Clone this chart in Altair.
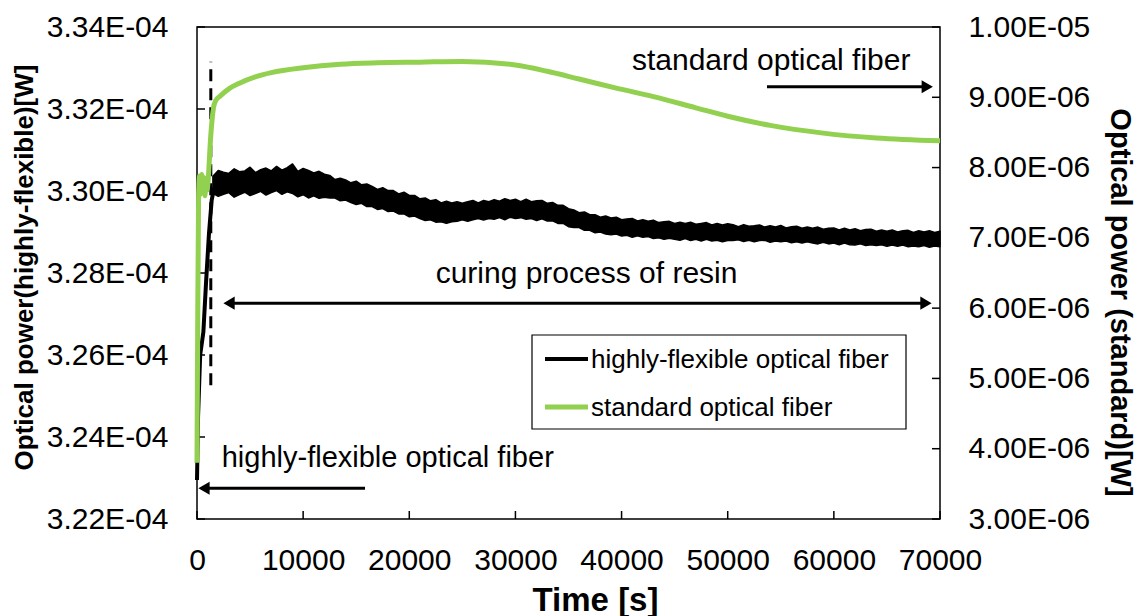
import altair as alt
import pandas as pd

FONT = "Liberation Sans"
GREEN = "#92D050"
W, H = 743, 492

# ---- axis ticks -------------------------------------------------------------
x_ticks = [0, 10000, 20000, 30000, 40000, 50000, 60000, 70000]
left_ticks = [3.22e-4, 3.24e-4, 3.26e-4, 3.28e-4, 3.30e-4, 3.32e-4, 3.34e-4]
right_ticks = [3e-6, 4e-6, 5e-6, 6e-6, 7e-6, 8e-6, 9e-6, 1e-5]

series_names = ["highly-flexible optical fiber", "standard optical fiber"]

# ---- highly-flexible fiber: start-up ramp (x1e-4 W) --------------------------
hf_ramp_t = [0, 100, 300, 600, 850, 1130, 1385, 1600, 1800, 2000]
hf_ramp_p = [3.2295, 3.2450, 3.2600, 3.2656, 3.2776, 3.2897, 3.2978, 3.3005, 3.3015, 3.3019]

# ---- highly-flexible fiber: noise envelope, sampled every 500 s (x1e-4 W) -----
hf_band_t = list(range(1500, 70001, 500))
hf_band_hi = [
    3.3036, 3.3050, 3.3046, 3.3043, 3.3054, 3.3047, 3.3049, 3.3058, 3.3045, 3.3052,
    3.3056, 3.3049, 3.3060, 3.3051, 3.3057, 3.3066, 3.3048, 3.3055, 3.3050, 3.3044,
    3.3048, 3.3041,
    3.3038, 3.3028, 3.3031, 3.3027, 3.3020, 3.3024, 3.3015, 3.3017, 3.3011, 3.3004,
    3.3008, 3.3001, 3.3001, 3.2993, 3.2997, 3.2989, 3.2989, 3.2981, 3.2983, 3.2976,
    3.2979, 3.2971, 3.2975, 3.2971,
    3.2974, 3.2970, 3.2974, 3.2977, 3.2971, 3.2977, 3.2974, 3.2979, 3.2975, 3.2981,
    3.2977, 3.2980, 3.2974, 3.2980, 3.2974, 3.2976, 3.2977, 3.2970, 3.2972, 3.2965,
    3.2965, 3.2957,
    3.2954, 3.2947, 3.2949, 3.2942, 3.2942, 3.2936, 3.2939, 3.2934, 3.2936, 3.2930,
    3.2932, 3.2933, 3.2927, 3.2930, 3.2926, 3.2929, 3.2923, 3.2925, 3.2926, 3.2921,
    3.2924, 3.2921, 3.2924, 3.2919, 3.2921, 3.2923, 3.2917, 3.2921, 3.2917, 3.2920,
    3.2918, 3.2913, 3.2918, 3.2914, 3.2915, 3.2917, 3.2912, 3.2915, 3.2912, 3.2916,
    3.2910, 3.2913, 3.2914, 3.2909, 3.2912, 3.2909, 3.2912, 3.2907, 3.2909, 3.2910,
    3.2905, 3.2909, 3.2905, 3.2908, 3.2903, 3.2906, 3.2907, 3.2902, 3.2905, 3.2902,
    3.2905, 3.2900, 3.2903, 3.2904, 3.2899, 3.2903, 3.2900, 3.2903, 3.2899, 3.2902,
]
hf_band_lo = [
    3.2994, 3.2987, 3.2992, 3.2996, 3.2985, 3.2991, 3.2997, 3.2989, 3.2994, 3.2999,
    3.2990, 3.2996, 3.3001, 3.2992, 3.2998, 3.2994, 3.2986, 3.2991, 3.2983, 3.2988,
    3.2982, 3.2985,
    3.2983, 3.2983, 3.2976, 3.2978, 3.2972, 3.2967, 3.2970, 3.2962, 3.2962, 3.2955,
    3.2957, 3.2950, 3.2951, 3.2944, 3.2944, 3.2937, 3.2939, 3.2933, 3.2928, 3.2930,
    3.2924, 3.2925, 3.2921, 3.2925,
    3.2926, 3.2930, 3.2926, 3.2930, 3.2933, 3.2929, 3.2933, 3.2931, 3.2935, 3.2930,
    3.2936, 3.2933, 3.2935, 3.2931, 3.2933, 3.2928, 3.2932, 3.2927, 3.2927, 3.2921,
    3.2921, 3.2913,
    3.2911, 3.2911, 3.2904, 3.2904, 3.2898, 3.2900, 3.2895, 3.2893, 3.2895, 3.2890,
    3.2892, 3.2887, 3.2891, 3.2887, 3.2889, 3.2884, 3.2886, 3.2882, 3.2885, 3.2882,
    3.2880, 3.2884, 3.2879, 3.2882, 3.2878, 3.2882, 3.2878, 3.2880, 3.2876, 3.2879,
    3.2879, 3.2881, 3.2877, 3.2880, 3.2876, 3.2879, 3.2880, 3.2875, 3.2878, 3.2876,
    3.2878, 3.2874, 3.2876, 3.2873, 3.2876, 3.2873, 3.2871, 3.2875, 3.2871, 3.2873,
    3.2869, 3.2873, 3.2869, 3.2868, 3.2871, 3.2867, 3.2869, 3.2867, 3.2869, 3.2865,
    3.2868, 3.2865, 3.2868, 3.2864, 3.2866, 3.2864, 3.2867, 3.2863, 3.2866, 3.2864,
]

# ---- standard fiber (x1e-6 W) -----------------------------------------------
std_t = [0, 60, 150, 250, 350, 450, 550, 650, 750, 850, 950, 1040, 1290, 1550, 1750,
         2200, 3000, 4000, 5500, 7000, 10000, 13500, 17000, 21000, 25000, 30000,
         33000, 36000, 39500, 43000, 47000, 50000, 54000, 59000, 64000, 70000]
std_p = [3.80, 5.60, 7.60, 7.88, 7.62, 7.90, 7.66, 7.86, 7.60, 7.84, 7.68, 7.80, 8.44,
         8.85, 8.95, 9.02, 9.12, 9.20, 9.29, 9.35, 9.42, 9.47, 9.49, 9.50, 9.51,
         9.46, 9.37, 9.26, 9.13, 9.01, 8.85, 8.73, 8.60, 8.49, 8.42, 8.38]

# ---- tables -----------------------------------------------------------------
ramp_df = pd.DataFrame({"t": hf_ramp_t, "p": [v * 1e-4 for v in hf_ramp_p]})
band_df = pd.DataFrame({"t": hf_band_t,
                        "hi": [v * 1e-4 for v in hf_band_hi],
                        "lo": [v * 1e-4 for v in hf_band_lo]})
std_df = pd.DataFrame({"t": std_t, "p": [v * 1e-6 for v in std_p]})

# ---- shared encodings -------------------------------------------------------
x_scale = alt.Scale(domain=[0, 70000], nice=False, zero=False)
x_axis = alt.Axis(values=x_ticks, format="d", ticks=False, tickSize=0, domain=False,
                  grid=False, labelFontSize=30, labelPadding=26, labelFlush=False,
                  titleFontSize=33, titleFontWeight="bold", titlePadding=9, titleX=398)
l_scale = alt.Scale(domain=[3.22e-4, 3.34e-4], nice=False, zero=False)
l_axis = alt.Axis(values=left_ticks, labelExpr="format(datum.value * 10000, '.2f') + 'E-04'",
                  ticks=False, tickSize=0, domain=False, grid=False, labelFontSize=30,
                  labelPadding=29, labelFlush=False, titleFontSize=26,
                  titleFontWeight="bold", titlePadding=9, titleY=240, orient="left")
r_scale = alt.Scale(domain=[3e-6, 1e-5], nice=False, zero=False)
r_axis = alt.Axis(values=right_ticks,
                  labelExpr="datum.value > 9.5e-6 ? '1.00E-05' : format(datum.value * 1000000, '.2f') + 'E-06'",
                  ticks=False, tickSize=0, domain=False, grid=False, labelFontSize=30,
                  labelPadding=28, labelFlush=False, titleFontSize=29,
                  titleFontWeight="bold", titlePadding=15, titleY=275, orient="right")

X_TITLE = "Time [s]"
L_TITLE = "Optical power(highly-flexible)[W]"
R_TITLE = "Optical power (standard)[W]"


def xq(field):
    return alt.X(f"{field}:Q", scale=x_scale, axis=x_axis, title=X_TITLE)


def yl(field):
    return alt.Y(f"{field}:Q", scale=l_scale, axis=l_axis, title=L_TITLE)


def yr(field):
    return alt.Y(f"{field}:Q", scale=r_scale, axis=r_axis, title=R_TITLE)


one = pd.DataFrame({"k": [0]})

# ---- left-axis layers -------------------------------------------------------
band = alt.Chart(band_df).mark_area(color="black", stroke="black", strokeWidth=1.5,
                                    strokeJoin="round").encode(
    x=xq("t"), y=yl("hi"), y2=alt.Y2("lo"))

ramp = alt.Chart(ramp_df).mark_line(color="black", strokeWidth=4).encode(
    x=xq("t"), y=yl("p"))

xtick_rules = alt.Chart(pd.DataFrame({"t": x_ticks})).mark_rule(
    color="black", strokeWidth=1.5).encode(x=xq("t"), y=alt.value(H), y2=alt.value(H - 8))

ltick_rules = alt.Chart(pd.DataFrame({"v": left_ticks})).mark_rule(
    color="black", strokeWidth=1.5).encode(y=yl("v"), x=alt.value(0), x2=alt.value(8))

# curing-start marker
marker_df = pd.DataFrame({"t": [1300], "v0": [3.2526e-4], "v1": [3.3315e-4]})
marker = alt.Chart(marker_df).mark_rule(color="black", strokeWidth=3,
                                        strokeDash=[12, 7]).encode(
    x=xq("t"), y=yl("v0"), y2=alt.Y2("v1"))

# arrows: shafts and heads
shaft_df = pd.DataFrame({
    "t0": [53700, 3020, 660],
    "t1": [68800, 68680, 15830],
    "v": [3.32543e-4, 3.27265e-4, 3.22751e-4],
})
shafts = alt.Chart(shaft_df).mark_rule(color="black", strokeWidth=3).encode(
    x=xq("t0"), x2=alt.X2("t1"), y=yl("v"))

head_r_df = pd.DataFrame({"t": [68800, 68680], "v": [3.32543e-4, 3.27265e-4]})
head_l_df = pd.DataFrame({"t": [3020, 660], "v": [3.27265e-4, 3.22751e-4]})
heads_r = alt.Chart(head_r_df).mark_point(shape="triangle-right", filled=True, size=170,
                                           color="black", opacity=1).encode(
    x=xq("t"), y=yl("v"))
heads_l = alt.Chart(head_l_df).mark_point(shape="triangle-left", filled=True, size=170,
                                           color="black", opacity=1).encode(
    x=xq("t"), y=yl("v"))


# annotation texts
def note(text, t, v, align, size):
    df = pd.DataFrame({"t": [t], "v": [v], "label": [text]})
    return alt.Chart(df).mark_text(font=FONT, fontSize=size, color="black", align=align,
                                   baseline="alphabetic").encode(
        x=xq("t"), y=yl("v"), text="label:N")


note_std = note(series_names[1], 54100, 3.32951e-4, "center", 30)
note_cure = note("curing process of resin", 36700, 3.27754e-4, "center", 30)
note_hf = note(series_names[0], 2330, 3.23263e-4, "left", 29)

# legend box
leg_box = alt.Chart(one).mark_rect(fill="white", stroke="black", strokeWidth=1.2).encode(
    x=alt.value(335), x2=alt.value(709), y=alt.value(308), y2=alt.value(402))
leg_line_hf = alt.Chart(one).mark_rule(color="black", strokeWidth=4).encode(
    x=alt.value(348), x2=alt.value(391), y=alt.value(332))
leg_line_std = alt.Chart(one).mark_rule(color=GREEN, strokeWidth=5).encode(
    x=alt.value(348), x2=alt.value(391), y=alt.value(380))
leg_txt_hf = alt.Chart(one).mark_text(font=FONT, fontSize=26, align="left",
                                      baseline="middle", color="black").encode(
    x=alt.value(394), y=alt.value(333), text=alt.value(series_names[0]))
leg_txt_std = alt.Chart(one).mark_text(font=FONT, fontSize=26, align="left",
                                       baseline="middle", color="black").encode(
    x=alt.value(394), y=alt.value(381), text=alt.value(series_names[1]))

left_layer = alt.layer(band, ramp, xtick_rules, ltick_rules, marker, shafts, heads_r,
                       heads_l, note_std, note_cure, note_hf, leg_box, leg_line_hf,
                       leg_line_std, leg_txt_hf, leg_txt_std)

# ---- right-axis layers ------------------------------------------------------
std_line = alt.Chart(std_df).mark_line(color=GREEN, strokeWidth=5,
                                       interpolate="monotone").encode(
    x=xq("t"), y=yr("p"))
rtick_rules = alt.Chart(pd.DataFrame({"v": right_ticks})).mark_rule(
    color="black", strokeWidth=1.5).encode(y=yr("v"), x=alt.value(W - 8), x2=alt.value(W))

right_layer = alt.layer(std_line, rtick_rules)

chart = alt.layer(left_layer, right_layer).resolve_scale(y="independent").properties(
    width=W, height=H,
    autosize=alt.AutoSizeParams(type="none"),
    padding={"left": 197, "top": 27, "right": 197, "bottom": 97},
    background="white",
).configure_view(stroke="black", strokeWidth=1.5).configure_axis(
    labelFont=FONT, titleFont=FONT, labelColor="black", titleColor="black")

chart.save("out.html", embed_options={"renderer": "svg", "actions": False})
